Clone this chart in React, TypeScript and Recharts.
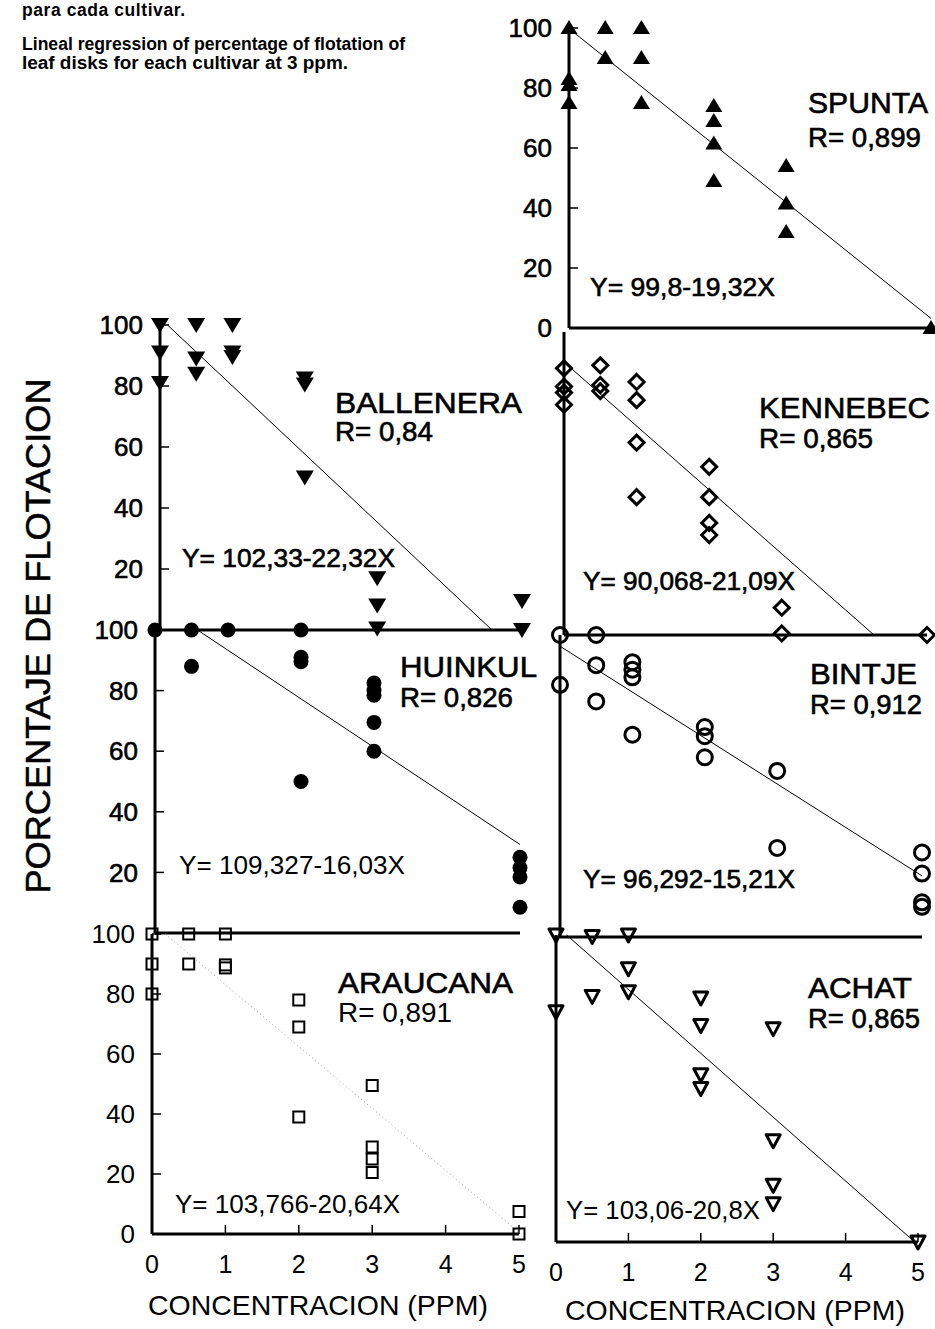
import React from "react";
import { ScatterChart, Scatter, XAxis, YAxis, ReferenceLine } from "recharts";

type Pt = { x: number; y: number };

// ticks
const xTicks = [0, 1, 2, 3, 4, 5];
const yTicksFull = [0, 20, 40, 60, 80, 100];
const yTicksTop = [20, 40, 60, 80, 100];

// flotation % per concentration (ppm)
const spunta: Pt[] = [
  { x: 0, y: 100 }, { x: 0, y: 83 }, { x: 0, y: 81 }, { x: 0, y: 75 },
  { x: 0.5, y: 100 }, { x: 0.5, y: 90 },
  { x: 1, y: 100 }, { x: 1, y: 90 }, { x: 1, y: 75 },
  { x: 2, y: 74 }, { x: 2, y: 69 }, { x: 2, y: 61.5 }, { x: 2, y: 49 },
  { x: 3, y: 54 }, { x: 3, y: 41.5 }, { x: 3, y: 32 },
  { x: 5, y: 0 },
];

const ballenera: Pt[] = [
  { x: 0, y: 100 }, { x: 0, y: 91 }, { x: 0, y: 81 },
  { x: 0.5, y: 100 }, { x: 0.5, y: 89 }, { x: 0.5, y: 84 },
  { x: 1, y: 100 }, { x: 1, y: 91 }, { x: 1, y: 89.5 },
  { x: 2, y: 82.5 }, { x: 2, y: 80.5 }, { x: 2, y: 50 },
  { x: 3, y: 17 }, { x: 3, y: 8 }, { x: 3, y: 0.5 },
  { x: 5, y: 9.5 }, { x: 5, y: 0 },
];

const huinkul: Pt[] = [
  { x: 0, y: 100 },
  { x: 0.5, y: 100 }, { x: 0.5, y: 88 },
  { x: 1, y: 100 },
  { x: 2, y: 100 }, { x: 2, y: 91 }, { x: 2, y: 89.5 }, { x: 2, y: 50 },
  { x: 3, y: 82.5 }, { x: 3, y: 80 }, { x: 3, y: 78.5 }, { x: 3, y: 69.5 }, { x: 3, y: 60 },
  { x: 5, y: 25 }, { x: 5, y: 21.5 }, { x: 5, y: 18.5 }, { x: 5, y: 8.5 },
];

const araucana: Pt[] = [
  { x: 0, y: 100 }, { x: 0, y: 90 }, { x: 0, y: 80 },
  { x: 0.5, y: 100 }, { x: 0.5, y: 90 },
  { x: 1, y: 100 }, { x: 1, y: 89.7 }, { x: 1, y: 88.7 },
  { x: 2, y: 78 }, { x: 2, y: 69 }, { x: 2, y: 39 },
  { x: 3, y: 49.5 }, { x: 3, y: 29 }, { x: 3, y: 25 }, { x: 3, y: 20.5 },
  { x: 5, y: 7.5 }, { x: 5, y: 0 },
];

const kennebec: Pt[] = [
  { x: 0, y: 88 }, { x: 0, y: 82 }, { x: 0, y: 80 }, { x: 0, y: 76 },
  { x: 0.5, y: 89 }, { x: 0.5, y: 82.5 }, { x: 0.5, y: 80.5 },
  { x: 1, y: 83.5 }, { x: 1, y: 77.5 }, { x: 1, y: 63.5 }, { x: 1, y: 45.5 },
  { x: 2, y: 55.5 }, { x: 2, y: 45.5 }, { x: 2, y: 37 }, { x: 2, y: 33 },
  { x: 3, y: 9 }, { x: 3, y: 0.5 },
  { x: 5, y: 0 },
];

const bintje: Pt[] = [
  { x: 0, y: 100 }, { x: 0, y: 83.5 },
  { x: 0.5, y: 100 }, { x: 0.5, y: 90 }, { x: 0.5, y: 78 },
  { x: 1, y: 91 }, { x: 1, y: 88.5 }, { x: 1, y: 86 }, { x: 1, y: 67 },
  { x: 2, y: 69.5 }, { x: 2, y: 66.5 }, { x: 2, y: 59.5 },
  { x: 3, y: 55 }, { x: 3, y: 29.5 },
  { x: 5, y: 28 }, { x: 5, y: 21 }, { x: 5, y: 11.5 }, { x: 5, y: 10 },
];

const achat: Pt[] = [
  { x: 0, y: 100 }, { x: 0, y: 75 },
  { x: 0.5, y: 99.5 }, { x: 0.5, y: 80 },
  { x: 1, y: 100 }, { x: 1, y: 89 }, { x: 1, y: 81.5 },
  { x: 2, y: 79.5 }, { x: 2, y: 70.5 }, { x: 2, y: 54.5 }, { x: 2, y: 50 },
  { x: 3, y: 69.5 }, { x: 3, y: 33 }, { x: 3, y: 18.5 }, { x: 3, y: 12.5 },
  { x: 5, y: 0 },
];

// regression line end points (from the printed equations)
const spuntaFit: Pt[] = [{ x: 0, y: 99.8 }, { x: 5, y: 3.2 }];
const balleneraFit: Pt[] = [{ x: 0.104, y: 100 }, { x: 4.585, y: 0 }];
const huinkulFit: Pt[] = [{ x: 0.582, y: 100 }, { x: 5, y: 29.2 }];
const araucanaFit: Pt[] = [{ x: 0.182, y: 100 }, { x: 5, y: 0.57 }];
const kennebecFit: Pt[] = [{ x: 0, y: 90.07 }, { x: 4.27, y: 0 }];
const bintjeFit: Pt[] = [{ x: 0, y: 96.29 }, { x: 5, y: 20.24 }];
const achatFit: Pt[] = [{ x: 0.147, y: 100 }, { x: 4.955, y: 0 }];

const FONT = "'Liberation Sans', Arial, sans-serif";

// marker shapes
const triUp = (p: any) => (
  <path d={`M${p.cx},${p.cy - 8} L${p.cx + 8.5},${p.cy + 6} L${p.cx - 8.5},${p.cy + 6} Z`} fill="#000" />
);
const triDown = (p: any) => (
  <path d={`M${p.cx - 9},${p.cy - 7} L${p.cx + 9},${p.cy - 7} L${p.cx},${p.cy + 8} Z`} fill="#000" />
);
const dot = (p: any) => <circle cx={p.cx} cy={p.cy} r={7.5} fill="#000" />;
const diamond = (p: any) => (
  <path
    d={`M${p.cx},${p.cy - 7.5} L${p.cx + 7.5},${p.cy} L${p.cx},${p.cy + 7.5} L${p.cx - 7.5},${p.cy} Z`}
    fill="none" stroke="#000" strokeWidth={3}
  />
);
const ring = (p: any) => <circle cx={p.cx} cy={p.cy} r={7.5} fill="none" stroke="#000" strokeWidth={3} />;
const square = (p: any) => (
  <rect x={p.cx - 5.5} y={p.cy - 5.5} width={11} height={11} fill="none" stroke="#000" strokeWidth={2} />
);
const triDownOpen = (p: any) => (
  <path
    d={`M${p.cx - 7},${p.cy - 6} L${p.cx + 7},${p.cy - 6} L${p.cx},${p.cy + 7} Z`}
    fill="none" stroke="#000" strokeWidth={3} strokeLinejoin="round"
  />
);

type Box = { x0: number; x5: number; top: number; bottom: number };

function Panel(props: {
  box: Box;
  data: Pt[];
  fit: Pt[];
  shape: any;
  yTicks: number[];
  xLabels?: boolean;
  yLabels?: boolean;
  light?: boolean;
  fitColor?: string;
  fitDash?: string;
}) {
  const { box, data, fit, shape, yTicks, xLabels, yLabels, light } = props;
  const mLeft = 80;
  const mRight = 20;
  const mTop = 20;
  const mBottom = xLabels ? 50 : 20;
  const w = box.x5 - box.x0 + mLeft + mRight;
  const h = box.bottom - box.top + mTop + mBottom;
  const tickFont = light
    ? { fill: "#000", fontSize: 26, fontFamily: FONT }
    : { fill: "#000", fontSize: 26, fontFamily: FONT, stroke: "#000", strokeWidth: 0.6 };
  return (
    <div style={{ position: "absolute", left: box.x0 - mLeft, top: box.top - mTop }}>
      <ScatterChart width={w} height={h} margin={{ top: mTop, right: mRight, bottom: 0, left: 0 }}>
        <XAxis
          type="number"
          dataKey="x"
          domain={[0, 5]}
          ticks={xTicks}
          interval={0}
          height={mBottom}
          axisLine={{ stroke: "#000", strokeWidth: 3 }}
          tickLine={{ stroke: "#000", strokeWidth: 1.5 }}
          tickSize={-9}
          tickMargin={30}
          tick={xLabels ? { fill: "#000", fontSize: 25, fontFamily: FONT } : false}
        />
        <YAxis
          type="number"
          dataKey="y"
          domain={[0, 100]}
          ticks={yTicks}
          interval={0}
          width={mLeft}
          axisLine={{ stroke: "#000", strokeWidth: 3 }}
          tickLine={{ stroke: "#000", strokeWidth: 1.5 }}
          tickSize={-9}
          tickMargin={26}
          tick={yLabels ? tickFont : false}
        />
        <ReferenceLine
          segment={fit}
          stroke={props.fitColor || "#000"}
          strokeWidth={1}
          strokeDasharray={props.fitDash}
        />
        <Scatter data={data} shape={shape} isAnimationActive={false} />
      </ScatterChart>
    </div>
  );
}

const texts: { t: string; x: number; y: number; size: number; w: number; heavy?: boolean }[] = [
  { t: "SPUNTA", x: 808, y: 113, size: 29, w: 120, heavy: true },
  { t: "R= 0,899", x: 808, y: 147, size: 27, w: 113, heavy: true },
  { t: "Y= 99,8-19,32X", x: 590, y: 296, size: 25, w: 185, heavy: true },
  { t: "BALLENERA", x: 335, y: 413, size: 29, w: 187, heavy: true },
  { t: "R= 0,84", x: 335, y: 441, size: 27, w: 98, heavy: true },
  { t: "Y= 102,33-22,32X", x: 182, y: 567, size: 25, w: 213, heavy: true },
  { t: "KENNEBEC", x: 759, y: 418, size: 29, w: 171, heavy: true },
  { t: "R= 0,865", x: 759, y: 448, size: 27, w: 114, heavy: true },
  { t: "Y= 90,068-21,09X", x: 583, y: 590, size: 25, w: 212, heavy: true },
  { t: "HUINKUL", x: 400, y: 677, size: 29, w: 137, heavy: true },
  { t: "R= 0,826", x: 400, y: 707, size: 27, w: 113, heavy: true },
  { t: "Y= 109,327-16,03X", x: 179, y: 874, size: 25, w: 226 },
  { t: "BINTJE", x: 810, y: 684, size: 29, w: 107, heavy: true },
  { t: "R= 0,912", x: 810, y: 714, size: 27, w: 112, heavy: true },
  { t: "Y= 96,292-15,21X", x: 583, y: 888, size: 25, w: 212, heavy: true },
  { t: "ARAUCANA", x: 338, y: 993, size: 29, w: 175, heavy: true },
  { t: "R= 0,891", x: 338, y: 1022, size: 27, w: 114 },
  { t: "Y= 103,766-20,64X", x: 175, y: 1213, size: 25, w: 225 },
  { t: "ACHAT", x: 808, y: 998, size: 29, w: 104, heavy: true },
  { t: "R= 0,865", x: 808, y: 1028, size: 27, w: 112, heavy: true },
  { t: "Y= 103,06-20,8X", x: 566, y: 1219, size: 25, w: 194 },
  { t: "CONCENTRACION (PPM)", x: 148, y: 1315, size: 28, w: 340 },
  { t: "CONCENTRACION (PPM)", x: 565, y: 1320, size: 28, w: 340 },
];

export default function App() {
  return (
    <div style={{ position: "relative", width: 935, height: 1329, background: "#fff", overflow: "hidden" }}>
      <style>{`body{margin:0}`}</style>
      <svg width={935} height={1329} style={{ position: "absolute", left: 0, top: 0 }}>
        <g fontFamily={FONT} fontWeight={700} fontSize={17.5} fill="#000">
          <text x={22} y={16} textLength={163} lengthAdjust="spacing">para cada cultivar.</text>
          <text x={22} y={50} textLength={383} lengthAdjust="spacingAndGlyphs">
            Lineal regression of percentage of flotation of
          </text>
          <text x={22} y={69} textLength={326} lengthAdjust="spacingAndGlyphs">
            leaf disks for each cultivar at 3 ppm.
          </text>
        </g>
        {texts.map((d, i) => (
          <text
            key={i}
            x={d.x}
            y={d.y}
            fontFamily={FONT}
            fontSize={d.size}
            fill="#000"
            stroke={d.heavy ? "#000" : "none"}
            strokeWidth={d.heavy ? 0.6 : 0}
            textLength={d.w}
            lengthAdjust="spacingAndGlyphs"
          >
            {d.t}
          </text>
        ))}
        <text
          transform="translate(50,636) rotate(-90)"
          textAnchor="middle"
          fontFamily={FONT}
          fontSize={35}
          fill="#000"
          stroke="#000"
          strokeWidth={0.5}
          textLength={515}
          lengthAdjust="spacingAndGlyphs"
        >
          PORCENTAJE DE FLOTACION
        </text>
      </svg>
      <Panel box={{ x0: 569, x5: 931, top: 28, bottom: 328 }} data={spunta} fit={spuntaFit} shape={triUp} yTicks={yTicksFull} yLabels />
      <Panel box={{ x0: 564, x5: 927, top: 332, bottom: 635 }} data={kennebec} fit={kennebecFit} shape={diamond} yTicks={yTicksFull} />
      <Panel box={{ x0: 560, x5: 922, top: 635, bottom: 937 }} data={bintje} fit={bintjeFit} shape={ring} yTicks={yTicksFull} />
      <Panel box={{ x0: 556, x5: 918, top: 935, bottom: 1242 }} data={achat} fit={achatFit} shape={triDownOpen} yTicks={yTicksFull} xLabels />
      <Panel box={{ x0: 160, x5: 522, top: 325, bottom: 630 }} data={ballenera} fit={balleneraFit} shape={triDown} yTicks={yTicksTop} yLabels />
      <Panel box={{ x0: 155, x5: 520, top: 630, bottom: 933 }} data={huinkul} fit={huinkulFit} shape={dot} yTicks={yTicksTop} yLabels />
      <Panel
        box={{ x0: 152, x5: 519, top: 934, bottom: 1234 }}
        data={araucana}
        fit={araucanaFit}
        shape={square}
        yTicks={yTicksFull}
        xLabels
        yLabels
        light
        fitColor="#9a9a9a"
        fitDash="1 3"
      />
    </div>
  );
}
